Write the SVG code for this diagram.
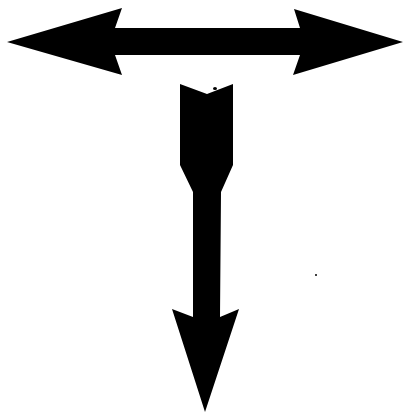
<svg xmlns="http://www.w3.org/2000/svg" width="404" height="415" viewBox="0 0 404 415">
<style>
.a{fill:#000;stroke:none}
</style>
<rect width="404" height="415" fill="#fff"/>
<g id="double-arrow">
<path class="a" d="M7,42 L122,8 L115,28 L300,28 L294,9 L403,42 L293,75 L300,55 L115,55 L122,75 Z"/>
</g>
<g id="down-arrow">
<path class="a" d="M180,84 L207,94 L233,84 L233,165 L221,192 L220,317 L239,309 L205,412 L172,309 L193,317 L193,192 L180,165 Z"/>
<ellipse cx="215" cy="88.5" rx="2" ry="1.5" class="a"/>
</g>
<circle cx="316" cy="275" r="1" fill="#000"/>
</svg>
